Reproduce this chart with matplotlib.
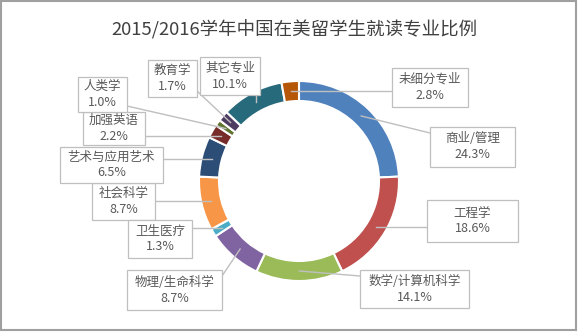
import matplotlib
matplotlib.use('Agg')
import matplotlib.pyplot as plt
from matplotlib.patches import Rectangle
import numpy as np

plt.rcParams['font.family'] = ['Noto Sans CJK SC', 'DejaVu Sans']

W, H = 580, 332

title = '2015/2016学年中国在美留学生就读专业比例'
majors = ['商业/管理', '工程学', '数学/计算机科学', '物理/生命科学', '卫生医疗',
          '社会科学', '艺术与应用艺术', '加强英语', '人类学', '教育学',
          '其它专业', '未细分专业']
shares = [24.3, 18.6, 14.1, 8.7, 1.3, 8.7, 6.5, 2.2, 1.0, 1.7, 10.1, 2.8]
colors = ['#4F81BD', '#C0504D', '#9BBB59', '#8064A2', '#4BACC6', '#F79646',
          '#2C4D75', '#772C2A', '#5F7530', '#4D3B62', '#276A7C', '#B65708']

# label boxes in pixel coords (x0, y0, x1, y1), origin top-left
boxes = [(430, 127, 515, 167), (427, 200, 518, 242), (360, 270, 469, 308),
         (127, 270, 222, 310), (128, 220, 192, 258), (92, 183, 155, 220),
         (60, 147, 163, 183), (83, 112, 145, 145), (78, 77, 127, 112),
         (148, 60, 197, 97), (200, 57, 260, 95), (392, 68, 468, 107)]
# draw order so overlapping boxes stack like the original
order = [5, 4, 3, 2, 1, 0, 11, 7, 6, 8, 9, 10]

cx, cy, r_out, ring = 299, 181, 100, 20

fig = plt.figure(figsize=(W / 100, H / 100), dpi=100)
ax = fig.add_axes([0, 0, 1, 1])

ax.pie(shares, colors=colors, startangle=90, counterclock=False,
       radius=r_out, center=(cx, H - cy),
       wedgeprops=dict(width=ring, edgecolor='white', linewidth=1.5))
ax.set_xlim(0, W)
ax.set_ylim(0, H)
ax.set_aspect('equal')
ax.axis('off')

# leader lines + label boxes
cum = np.cumsum([0] + shares[:-1])
r_mid = r_out - ring / 2
for i in order:
    ang = np.deg2rad(90 - 360 * (cum[i] + shares[i] / 2) / 100)
    px, py = cx + r_mid * np.cos(ang), cy - r_mid * np.sin(ang)
    x0, y0, x1, y1 = boxes[i]
    ex = min(max(px, x0), x1)
    ey = min(max(py, y0 + 6), y1 - 6)
    ax.plot([px, ex], [H - py, H - ey], color='#BFBFBF', lw=1.0, zorder=3)

for i in order:
    x0, y0, x1, y1 = boxes[i]
    ax.add_patch(Rectangle((x0, H - y1), x1 - x0, y1 - y0, facecolor='white',
                           edgecolor='#BFBFBF', lw=0.9, zorder=4))
    ax.text((x0 + x1) / 2, H - (y0 + y1) / 2,
            f'{majors[i]}\n{shares[i]:.1f}%', ha='center', va='center',
            fontsize=9, color='#595959', linespacing=1.3, zorder=5)

ax.text(294, H - 30, title, ha='center', va='center', fontsize=13.3,
        color='#404040')

ax.add_patch(Rectangle((1, H - 330), 575, 329, fill=False,
                       edgecolor='#A0A0A0', lw=1.5, zorder=6))

fig.savefig('out.png', dpi=100)
